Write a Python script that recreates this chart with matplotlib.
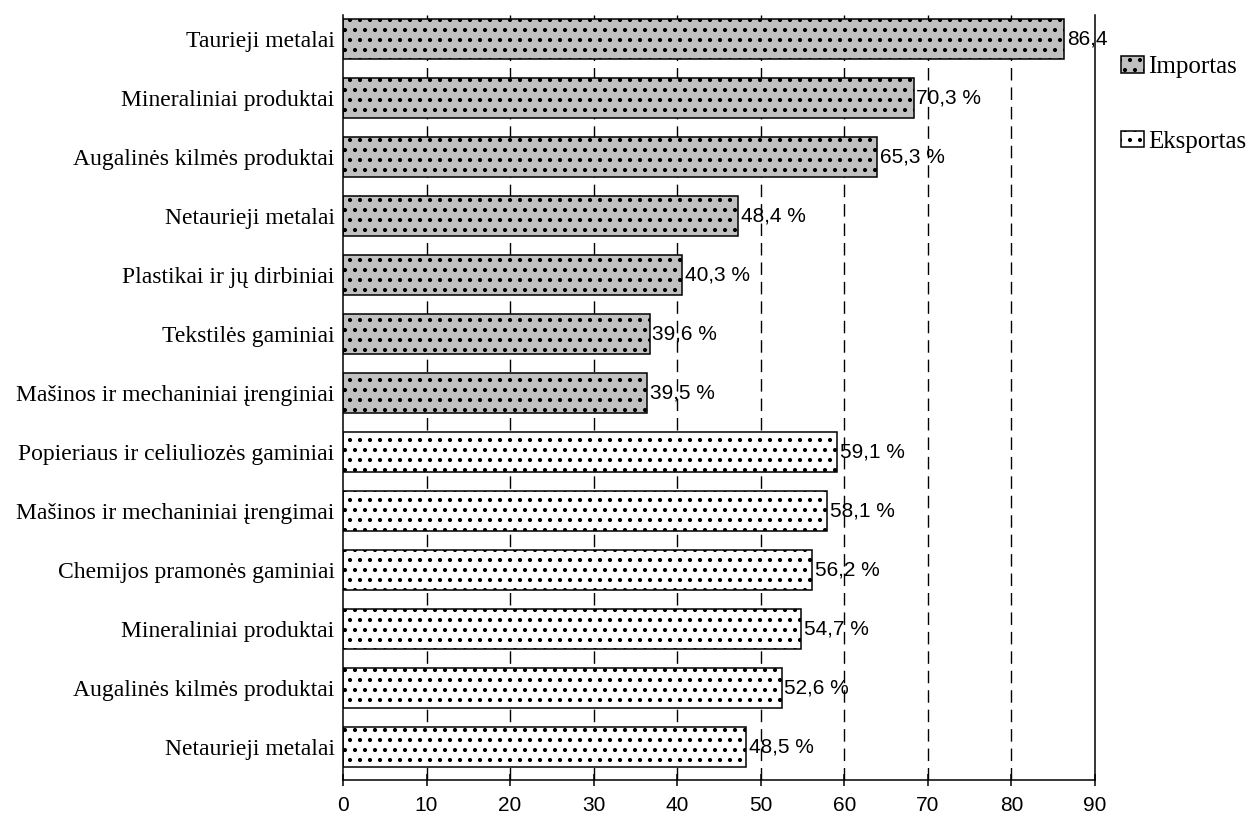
import matplotlib
matplotlib.use("Agg")
import matplotlib.pyplot as plt
import numpy as np

# kategorijos (iš viršaus į apačią)
kategorijos = [
    "Taurieji metalai", "Mineraliniai produktai", "Augalinės kilmės produktai",
    "Netaurieji metalai", "Plastikai ir jų dirbiniai", "Tekstilės gaminiai",
    "Mašinos ir mechaniniai įrenginiai",
    "Popieriaus ir celiuliozės gaminiai", "Mašinos ir mechaniniai įrengimai",
    "Chemijos pramonės gaminiai", "Mineraliniai produktai",
    "Augalinės kilmės produktai", "Netaurieji metalai",
]
# stulpelių ilgiai, kaip nubraižyta paveiksle
importas = [86.3, 68.3, 63.9, 47.3, 40.6, 36.7, 36.4]
eksportas = [59.1, 57.9, 56.1, 54.8, 52.5, 48.2]
# užrašai prie stulpelių
uzrasai = ["86,4", "70,3 %", "65,3 %", "48,4 %", "40,3 %", "39,6 %", "39,5 %",
           "59,1 %", "58,1 %", "56,2 %", "54,7 %", "52,6 %", "48,5 %"]
xticks = list(range(0, 100, 10))

DPI = 120          # didesnis dpi -> retesni taškeliai štrichuotėje
k = 100 / DPI      # dydžiai nurodyti kaip 100 dpi atveju

serif = ["Liberation Serif", "DejaVu Serif"]
sans = ["Liberation Sans", "DejaVu Sans"]
plt.rcParams["hatch.linewidth"] = 1.5 * k
plt.rcParams["hatch.color"] = "black"

fig = plt.figure(figsize=(1248 / DPI, 820 / DPI), dpi=DPI)
ax = fig.add_axes([343 / 1248, 1 - 780 / 820, (1095 - 343) / 1248, (780 - 15) / 820])

y_imp = np.arange(len(importas))
y_eks = np.arange(len(importas), len(kategorijos))
h = 0.68
b1 = ax.barh(y_imp, importas, height=h, color="#c0c0c0", edgecolor="black",
             linewidth=1.1 * k, hatch="..", label="Importas", zorder=2)
b2 = ax.barh(y_eks, eksportas, height=h, color="white", edgecolor="black",
             linewidth=1.1 * k, hatch="..", label="Eksportas", zorder=2)

vertes = importas + eksportas
for y, v, t in zip(range(len(vertes)), vertes, uzrasai):
    ax.annotate(t, (v, y), xytext=(2 * k, 0), textcoords="offset points",
                ha="left", va="center", fontsize=15 * k, family=sans)

ax.set_xlim(0, 90)
ax.set_ylim(12.56, -0.41)
ax.set_xticks(xticks)
ax.set_xticklabels([str(x) for x in xticks], family=sans, fontsize=15 * k)
ax.tick_params(axis="x", direction="inout", length=9 * k, width=1.1 * k, pad=7 * k)

ax.set_yticks(range(len(kategorijos)))
ax.set_yticklabels(kategorijos, family=serif, fontsize=17 * k)
ax.tick_params(axis="y", length=0, pad=6 * k)

for x in xticks[1:-1]:
    ax.axvline(x, color="black", linewidth=1.0 * k, linestyle=(0, (9, 5)), zorder=1)

for s in ["left", "bottom", "right"]:
    ax.spines[s].set_linewidth(1.1 * k)
ax.spines["top"].set_visible(False)

fig.legend(handles=[b1, b2], loc="upper left",
           bbox_to_anchor=(1121 / 1248, 1 - 56 / 820), frameon=False,
           prop={"family": serif, "size": 18 * k}, handlelength=0.9,
           handleheight=0.65, handletextpad=0.2, labelspacing=2.1,
           borderpad=0, borderaxespad=0)

fig.savefig("out.png", dpi=DPI)
